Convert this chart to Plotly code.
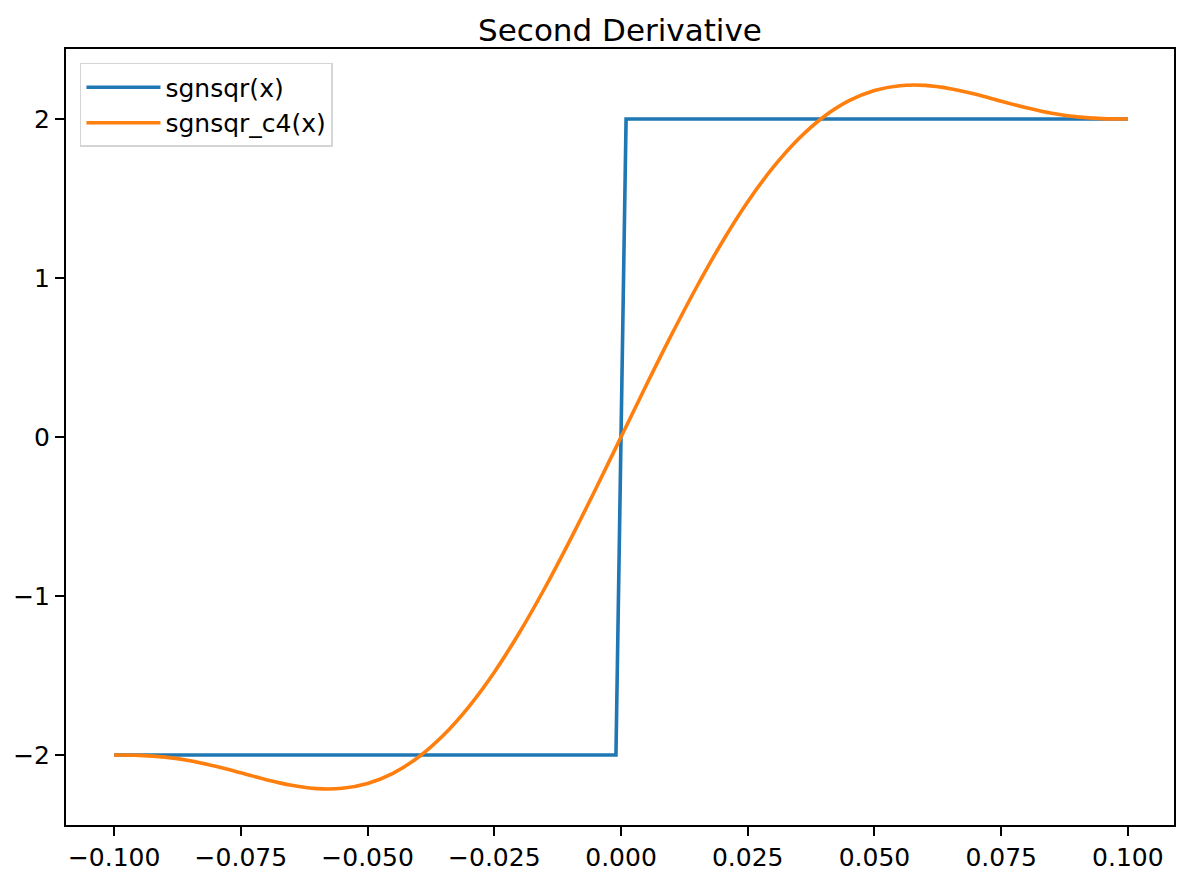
import plotly.graph_objects as go

# Data
x_step = [-0.100, -0.001, 0.000, 0.001, 0.100]
y_step = [-2.0, -2.0, 0.0, 2.0, 2.0]

x_c4 = [-0.100, -0.095, -0.090, -0.085, -0.080, -0.075, -0.070, -0.065, -0.060, -0.055,
        -0.050, -0.045, -0.040, -0.035, -0.030, -0.025, -0.020, -0.015, -0.010, -0.005,
        0.000, 0.005, 0.010, 0.015, 0.020, 0.025, 0.030, 0.035, 0.040, 0.045,
        0.050, 0.055, 0.060, 0.065, 0.070, 0.075, 0.080, 0.085, 0.090, 0.095, 0.100]
y_c4 = [-2.000, -2.002, -2.013, -2.036, -2.071, -2.112, -2.155, -2.190, -2.211, -2.209,
        -2.179, -2.115, -2.014, -1.874, -1.695, -1.479, -1.228, -0.948, -0.645, -0.327,
        0.000, 0.327, 0.645, 0.948, 1.228, 1.479, 1.695, 1.874, 2.014, 2.115,
        2.179, 2.209, 2.211, 2.190, 2.155, 2.112, 2.071, 2.036, 2.013, 2.002, 2.000]

x_tickvals = [-0.100, -0.075, -0.050, -0.025, 0.000, 0.025, 0.050, 0.075, 0.100]
x_ticktext = ["\u22120.100", "\u22120.075", "\u22120.050", "\u22120.025", "0.000",
              "0.025", "0.050", "0.075", "0.100"]
y_tickvals = [-2, -1, 0, 1, 2]
y_ticktext = ["\u22122", "\u22121", "0", "1", "2"]

FONT = "DejaVu Sans"

fig = go.Figure()
fig.add_trace(go.Scatter(x=x_step, y=y_step, mode="lines", name="sgnsqr(x)",
                         legendgroup="a",
                         line=dict(color="#1f77b4", width=3.6)))
fig.add_trace(go.Scatter(x=x_c4, y=y_c4, mode="lines", name="sgnsqr_c4(x)",
                         legendgroup="b",
                         line=dict(color="#ff7f0e", width=3.6, shape="spline", smoothing=1.0)))

axis_common = dict(showgrid=False, zeroline=False, showline=True, mirror=True,
                   linecolor="black", linewidth=2, ticks="outside", ticklen=9,
                   tickwidth=2, tickcolor="black",
                   tickfont=dict(family=FONT, size=25, color="black"))

fig.update_layout(
    width=1177, height=873,
    margin=dict(l=66, r=1, t=49, b=46),
    paper_bgcolor="white", plot_bgcolor="white",
    title=dict(text="Second Derivative", x=0.5, xref="paper", xanchor="center",
               y=1, yref="paper", yanchor="bottom", pad=dict(b=8),
               font=dict(family=FONT, size=31, color="black")),
    xaxis=dict(range=[-0.1095, 0.1091], tickmode="array", tickvals=x_tickvals,
               ticktext=x_ticktext, **axis_common),
    yaxis=dict(range=[-2.44, 2.44], tickmode="array", tickvals=y_tickvals,
               ticktext=y_ticktext, **axis_common),
    legend=dict(x=0.0126, y=0.982, xanchor="left", yanchor="top",
                bgcolor="rgba(255,255,255,0.8)", bordercolor="#d5d5d5", borderwidth=1.5,
                font=dict(family=FONT, size=25, color="black"),
                itemwidth=74, tracegroupgap=5, traceorder="normal"),
    showlegend=True,
)

fig.write_html("out.html")
